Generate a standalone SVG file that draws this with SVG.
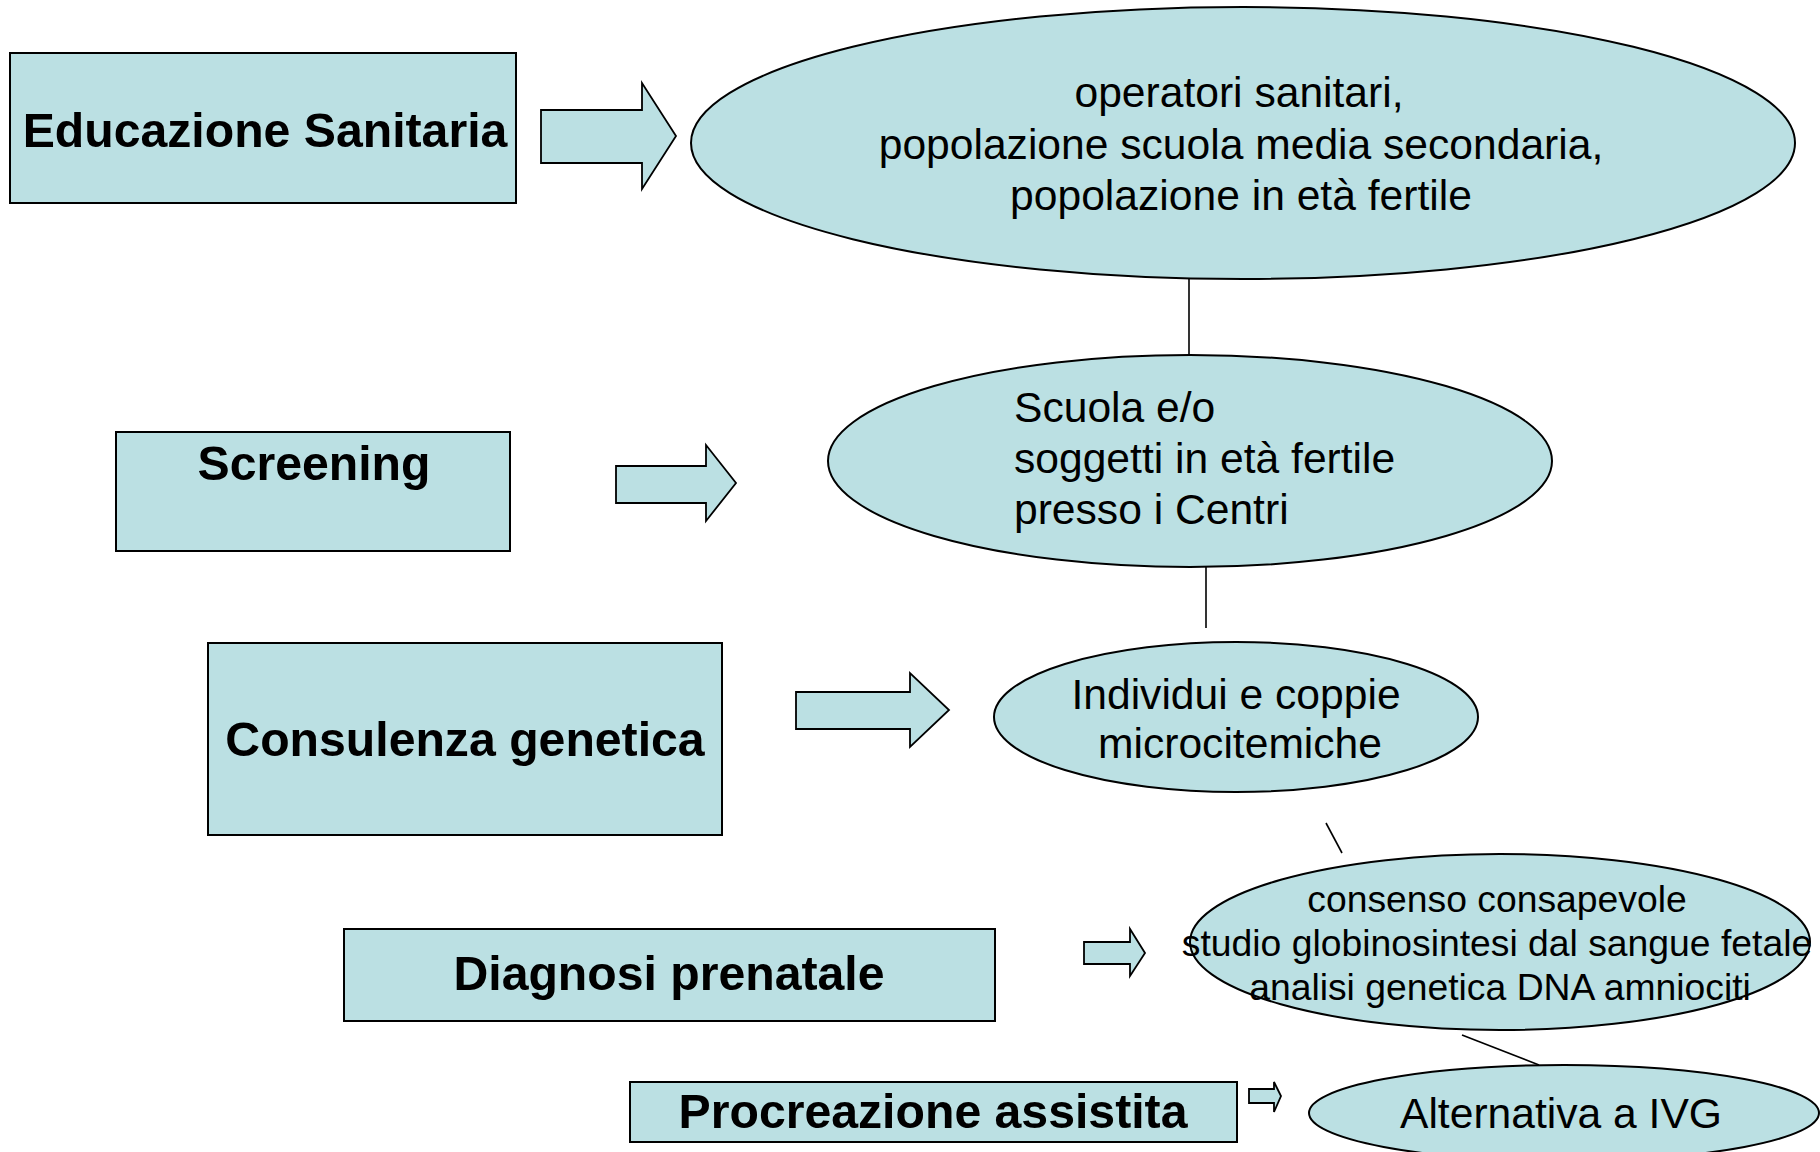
<svg xmlns="http://www.w3.org/2000/svg" width="1820" height="1152" viewBox="0 0 1820 1152">
<style>
.box{fill:#BBE0E3;stroke:#000;stroke-width:2}
.arr{fill:#BBE0E3;stroke:#000;stroke-width:1.8;stroke-linejoin:miter}
.ell{fill:#BBE0E3;stroke:#000;stroke-width:2}
.lbl{font-family:"Liberation Sans",Arial,sans-serif;font-weight:bold;font-size:48.2px;fill:#000;text-anchor:middle}
.txt{font-family:"Liberation Sans",Arial,sans-serif;font-size:42.6px;fill:#000}
.sm{font-family:"Liberation Sans",Arial,sans-serif;font-size:37.3px;fill:#000;text-anchor:middle}
.ln{stroke:#000;stroke-width:1.6;fill:none}
</style>
<rect width="1820" height="1152" fill="#fff"/>
<g id="connectors">
<line class="ln" x1="1189" y1="279" x2="1189" y2="355"/>
<line class="ln" x1="1206" y1="567" x2="1206" y2="628"/>
<line class="ln" x1="1326" y1="823" x2="1342" y2="853"/>
<line class="ln" x1="1462" y1="1035" x2="1539" y2="1065"/>
<polygon class="arr" points="541,110 642,110 642,83 676,136 642,189 642,163 541,163"/>
<polygon class="arr" points="616,466 706,466 706,445 736,483 706,521 706,503 616,503"/>
<polygon class="arr" points="796,692 910,692 910,673 949,710 910,747 910,729 796,729"/>
<polygon class="arr" points="1084,942 1130,942 1130,929 1145,953 1130,976 1130,964 1084,964"/>
<polygon class="arr" points="1249,1089 1274,1089 1274,1082 1281,1096 1274,1112 1274,1103 1249,1103"/>
</g>
<g id="educazione">
<rect class="box" x="10" y="53" width="506" height="150"/>
<text class="lbl" x="265" y="147">Educazione Sanitaria</text>
</g>
<g id="screening">
<rect class="box" x="116" y="432" width="394" height="119"/>
<text class="lbl" x="314" y="480">Screening</text>
</g>
<g id="consulenza">
<rect class="box" x="208" y="643" width="514" height="192"/>
<text class="lbl" x="465" y="756">Consulenza genetica</text>
</g>
<g id="diagnosi">
<rect class="box" x="344" y="929" width="651" height="92"/>
<text class="lbl" x="669" y="990">Diagnosi prenatale</text>
</g>
<g id="procreazione">
<rect class="box" x="630" y="1082" width="607" height="60"/>
<text class="lbl" x="933" y="1128">Procreazione assistita</text>
</g>
<g id="operatori">
<ellipse class="ell" cx="1243" cy="143" rx="552" ry="136"/>
<text class="txt" text-anchor="middle" x="1241"><tspan x="1239" y="107">operatori sanitari,</tspan><tspan x="1241" y="159">popolazione scuola media secondaria,</tspan><tspan x="1241" y="210">popolazione in età fertile</tspan></text>
</g>
<g id="scuola">
<ellipse class="ell" cx="1190" cy="461" rx="362" ry="106"/>
<text class="txt" x="1014"><tspan x="1014" y="422">Scuola e/o</tspan><tspan x="1014" y="473">soggetti in età fertile</tspan><tspan x="1014" y="524">presso i Centri</tspan></text>
</g>
<g id="individui">
<ellipse class="ell" cx="1236" cy="717" rx="242" ry="75"/>
<text class="txt" text-anchor="middle"><tspan x="1236" y="709">Individui e coppie</tspan><tspan x="1240" y="758">microcitemiche</tspan></text>
</g>
<g id="consenso">
<ellipse class="ell" cx="1500" cy="942" rx="310" ry="88"/>
<text class="sm"><tspan x="1497" y="912">consenso consapevole</tspan><tspan x="1497" y="956">studio globinosintesi dal sangue fetale</tspan><tspan x="1500" y="1000">analisi genetica DNA amniociti</tspan></text>
</g>
<g id="alternativa">
<ellipse class="ell" cx="1564" cy="1113" rx="255" ry="48"/>
<text class="txt" text-anchor="middle" x="1561" y="1128">Alternativa a IVG</text>
</g>
</svg>
